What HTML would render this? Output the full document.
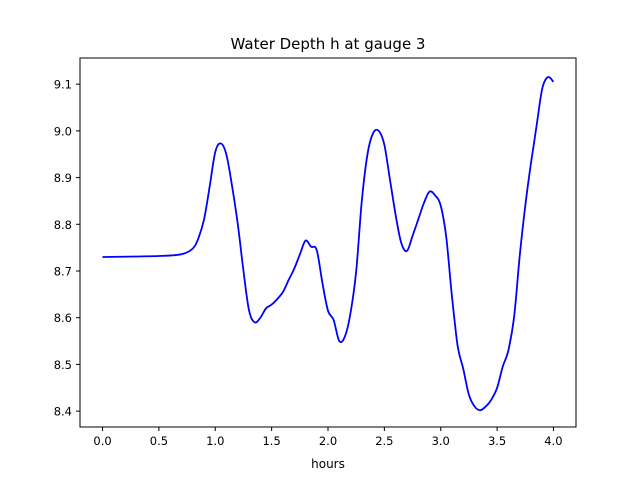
<!DOCTYPE html>
<html><head><meta charset="utf-8"><style>
body{margin:0;background:#fff}
svg text{font-family:"DejaVu Sans","Liberation Sans",sans-serif;fill:#000}
</style></head><body>
<svg id="chart" width="640" height="480">
<rect x="0" y="0" width="640" height="480" fill="#fff"/>
<text x="328" y="49" font-size="15" text-anchor="middle">Water Depth h at gauge 3</text>
<g id="xt"></g><g id="yt"></g>
<path id="line" fill="none" stroke="#0000ff" stroke-width="1.8" stroke-linejoin="round"/>
<rect x="80" y="58" width="496" height="369" fill="none" stroke="#000" stroke-width="1"/>
<text x="328" y="468" font-size="12" text-anchor="middle">hours</text>
</svg>
<script>
const hours=[0,0.5,0.7,0.8,0.85,0.9,0.95,1.0,1.05,1.1,1.15,1.2,1.25,1.3,1.35,1.4,1.45,1.5,1.55,1.6,1.65,1.7,1.75,1.8,1.85,1.9,1.95,2.0,2.05,2.1,2.15,2.2,2.25,2.3,2.35,2.4,2.45,2.5,2.55,2.6,2.65,2.7,2.75,2.8,2.85,2.9,2.95,3.0,3.05,3.1,3.15,3.2,3.25,3.3,3.35,3.4,3.45,3.5,3.55,3.6,3.65,3.7,3.75,3.8,3.85,3.9,3.95,4.0];
const depth=[8.73,8.732,8.736,8.748,8.77,8.81,8.88,8.955,8.973,8.948,8.88,8.80,8.70,8.615,8.59,8.60,8.62,8.628,8.64,8.655,8.68,8.705,8.735,8.765,8.752,8.745,8.675,8.615,8.595,8.55,8.56,8.61,8.70,8.85,8.95,8.995,9.0,8.97,8.895,8.82,8.76,8.743,8.775,8.81,8.845,8.87,8.862,8.84,8.77,8.645,8.54,8.49,8.435,8.41,8.402,8.41,8.425,8.45,8.495,8.53,8.6,8.73,8.84,8.93,9.01,9.09,9.115,9.105];
const xTicks=[0,0.5,1.0,1.5,2.0,2.5,3.0,3.5,4.0];
const yTicks=[8.4,8.5,8.6,8.7,8.8,8.9,9.0,9.1];
const X=v=>80+(v+0.2)/4.4*496;
const Y=v=>427-(v-8.366)/(9.156-8.366)*369;
const ns="http://www.w3.org/2000/svg";
const xt=document.getElementById('xt'),yt=document.getElementById('yt');
xTicks.forEach(t=>{
  const l=document.createElementNS(ns,'line');
  l.setAttribute('x1',X(t));l.setAttribute('x2',X(t));l.setAttribute('y1',427);l.setAttribute('y2',431);l.setAttribute('stroke','#000');
  
  
  xt.appendChild(l);
  const s=document.createElementNS(ns,'text');
  s.setAttribute('x',X(t));s.setAttribute('y',445);s.setAttribute('font-size','11.5');s.setAttribute('text-anchor','middle');
  s.textContent=t.toFixed(1);
  
  
  xt.appendChild(s);
});
yTicks.forEach(t=>{
  const l=document.createElementNS(ns,'line');
  l.setAttribute('x1',76);l.setAttribute('x2',80);l.setAttribute('y1',Y(t));l.setAttribute('y2',Y(t));l.setAttribute('stroke','#000');
  
  
  yt.appendChild(l);
  const s=document.createElementNS(ns,'text');
  s.setAttribute('x',72);s.setAttribute('y',Y(t)+4.5);s.setAttribute('font-size','11.5');s.setAttribute('text-anchor','end');
  s.textContent=t.toFixed(1);
  
  
  yt.appendChild(s);
});
const P=hours.map((h,i)=>[X(h),Y(depth[i])]);
let d='M'+P[0][0].toFixed(1)+' '+P[0][1].toFixed(1);
for(let i=0;i<P.length-1;i++){
  const p0=P[Math.max(i-1,0)],p1=P[i],p2=P[i+1],p3=P[Math.min(i+2,P.length-1)];
  const c1=[p1[0]+(p2[0]-p0[0])/6,p1[1]+(p2[1]-p0[1])/6];
  const c2=[p2[0]-(p3[0]-p1[0])/6,p2[1]-(p3[1]-p1[1])/6];
  d+=' C'+c1.map(v=>v.toFixed(1)).join(' ')+' '+c2.map(v=>v.toFixed(1)).join(' ')+' '+p2.map(v=>v.toFixed(1)).join(' ');
}
document.getElementById('line').setAttribute('d',d);
</script>
</body></html>
